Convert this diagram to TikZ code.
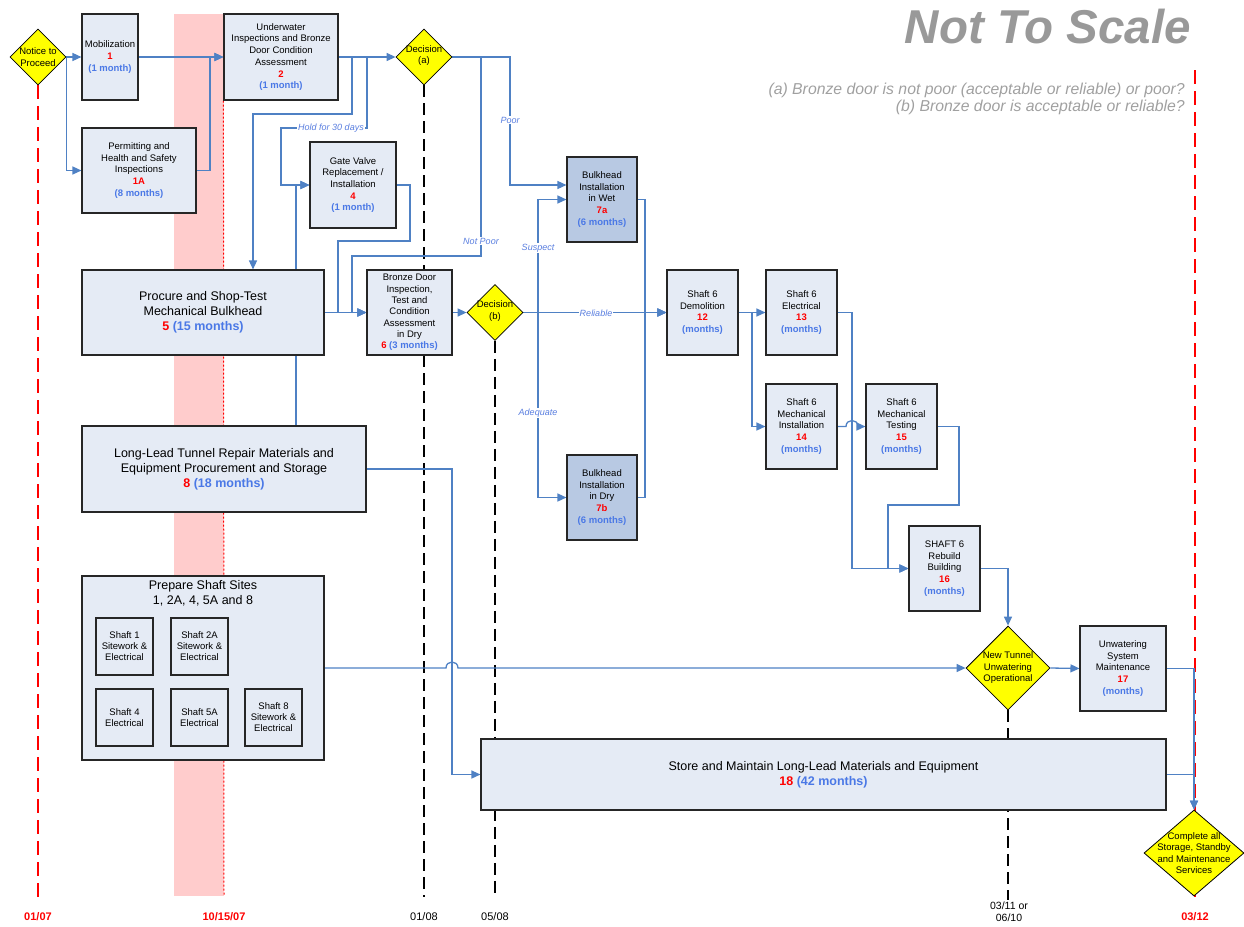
\documentclass[tikz,border=0pt]{standalone}
\usepackage{fontspec}
\setmainfont{Liberation Sans}
\usetikzlibrary{arrows.meta,shapes.geometric,calc}
\definecolor{boxfill}{HTML}{E5EBF5}
\definecolor{darkfill}{HTML}{B8C9E3}
\definecolor{connblue}{HTML}{4F81C4}
\definecolor{numred}{HTML}{FF0000}
\definecolor{monblue}{HTML}{4A78E6}
\definecolor{lblblue}{HTML}{5A7FE0}
\definecolor{pinkband}{HTML}{FFCCCC}
\definecolor{titlegray}{HTML}{999999}
\definecolor{notegray}{HTML}{A0A0A0}
\definecolor{yel}{HTML}{FFFF00}
\pgfdeclarelayer{back}
\pgfdeclarelayer{lines}
\pgfsetlayers{back,lines,main}
\newcommand{\rnum}[1]{\textcolor{numred}{\bfseries #1}}
\newcommand{\bmon}[1]{\textcolor{monblue}{\bfseries #1}}
\tikzset{
  box/.style={draw=black!85, line width=1.1pt, fill=boxfill, align=center, inner sep=1pt, font=\fontsize{9.5}{11.7}\selectfont},
  big/.style={box, font=\fontsize{12.5}{15}\selectfont},
  dkbox/.style={box, fill=darkfill},
  sbox/.style={box, minimum width=57pt, minimum height=57pt, font=\fontsize{9.5}{11}\selectfont},
  dia/.style={diamond, draw=black, line width=0.8pt, fill=yel, inner sep=0pt},
  dtext/.style={align=center, inner sep=0pt, font=\fontsize{9.5}{11.5}\selectfont},
  arr/.style={draw=connblue, line width=1.3pt, -{Triangle[length=9pt,width=8pt]}},
  lbl/.style={font=\fontsize{9}{10}\selectfont\itshape, text=lblblue, fill=white, inner sep=1pt},
  reddash/.style={draw=red, line width=2.2pt, dash pattern=on 14pt off 7pt},
  blkdash/.style={draw=black, line width=2pt, dash pattern=on 12pt off 6pt},
  datelbl/.style={font=\fontsize{11}{12}\selectfont, inner sep=0pt}
}
\begin{document}
\begin{tikzpicture}[x=1pt,y=-1pt]
\clip (0,0) rectangle (1244,926);
\useasboundingbox (0,0) rectangle (1244,926);

% ---- nodes ----
\node[dia, minimum width=56pt, minimum height=56pt] (np) at (38,57) {};
\node[dtext] (npt) at (38,57) {Notice to\\Proceed};
\node[box, minimum width=56pt, minimum height=86pt] (mob) at (110,57) {Mobilization\\\rnum{1}\\\bmon{(1 month)}};
\node[box, minimum width=114pt, minimum height=85pt] (perm) at (139,170.5) {Permitting and\\Health and Safety\\Inspections\\\rnum{1A}\\\bmon{(8 months)}};
\node[box, minimum width=114pt, minimum height=86pt] (uw) at (281,57) {Underwater\\Inspections and Bronze\\Door Condition\\Assessment\\\rnum{2}\\\bmon{(1 month)}};
\node[dia, minimum width=56pt, minimum height=56pt] (da) at (424,57) {};
\node[dtext] (dat) at (424,55.5) {Decision\\(a)};
\node[box, minimum width=86pt, minimum height=86pt] (gv) at (353,185) {Gate Valve\\Replacement /\\Installation\\\rnum{4}\\\bmon{(1 month)}};
\node[big, minimum width=242pt, minimum height=85pt] (proc) at (203,312.5) {Procure and Shop-Test\\Mechanical Bulkhead\\\rnum{5} \bmon{(15 months)}};
\node[box, minimum width=85pt, minimum height=85pt, font=\fontsize{9.5}{11.3}\selectfont] (bd) at (409.5,312.5) {Bronze Door\\Inspection,\\Test and\\Condition\\Assessment\\in Dry\\\rnum{6} \bmon{(3 months)}};
\node[dia, minimum width=56pt, minimum height=56pt] (db) at (495,312.5) {};
\node[dtext] (dbt) at (495,311) {Decision\\(b)};
\node[dkbox, minimum width=70pt, minimum height=85pt] (b7a) at (602,199.5) {Bulkhead\\Installation\\in Wet\\\rnum{7a}\\\bmon{(6 months)}};
\node[dkbox, minimum width=70pt, minimum height=85pt] (b7b) at (602,497.5) {Bulkhead\\Installation\\in Dry\\\rnum{7b}\\\bmon{(6 months)}};
\node[big, minimum width=284pt, minimum height=86pt] (ll) at (224,469) {Long-Lead Tunnel Repair Materials and\\Equipment Procurement and Storage\\\rnum{8} \bmon{(18 months)}};
\node[box, minimum width=242pt, minimum height=184pt] (pss) at (203,668) {};
\node[align=center, anchor=north, inner sep=0pt, font=\fontsize{12.5}{15}\selectfont] (psst) at (203,580) {Prepare Shaft Sites\\1, 2A, 4, 5A and 8};
\node[sbox] (s1) at (124.5,646.5) {Shaft 1\\Sitework \&\\Electrical};
\node[sbox] (s2a) at (199.5,646.5) {Shaft 2A\\Sitework \&\\Electrical};
\node[sbox] (s4) at (124.5,717.5) {Shaft 4\\Electrical};
\node[sbox] (s5a) at (199.5,717.5) {Shaft 5A\\Electrical};
\node[sbox] (s8) at (273.5,717.5) {Shaft 8\\Sitework \&\\Electrical};
\node[box, minimum width=71pt, minimum height=85pt] (dem) at (702.5,312.5) {Shaft 6\\Demolition\\\rnum{12}\\\bmon{(months)}};
\node[box, minimum width=71pt, minimum height=85pt] (el) at (801.5,312.5) {Shaft 6\\Electrical\\\rnum{13}\\\bmon{(months)}};
\node[box, minimum width=71pt, minimum height=85pt] (mi) at (801.5,426.5) {Shaft 6\\Mechanical\\Installation\\\rnum{14}\\\bmon{(months)}};
\node[box, minimum width=71pt, minimum height=85pt] (mt) at (901.5,426.5) {Shaft 6\\Mechanical\\Testing\\\rnum{15}\\\bmon{(months)}};
\node[box, minimum width=71pt, minimum height=85pt] (rb) at (944.5,568.5) {SHAFT 6\\Rebuild\\Building\\\rnum{16}\\\bmon{(months)}};
\node[dia, minimum width=84pt, minimum height=84pt] (nt) at (1008,668) {};
\node[dtext] (ntt) at (1008,668) {New Tunnel\\Unwatering\\Operational};
\node[box, minimum width=86pt, minimum height=85pt] (uws) at (1123,668.5) {Unwatering\\System\\Maintenance\\\rnum{17}\\\bmon{(months)}};
\node[big, minimum width=685pt, minimum height=71pt] (st) at (823.5,774.5) {Store and Maintain Long-Lead Materials and Equipment\\\rnum{18} \bmon{(42 months)}};
\node[dia, minimum width=100pt, minimum height=86pt] (ca) at (1194,853) {};
\node[dtext, font=\fontsize{9.5}{11.3}\selectfont] (cat) at (1194,853) {Complete all\\Storage, Standby\\and Maintenance\\Services};

% ---- texts ----
\node[anchor=east, inner sep=0pt, text=titlegray, font=\fontsize{47.5}{50}\selectfont\bfseries\itshape] (title) at (1191,27) {Not To Scale};
\node[anchor=east, align=right, inner sep=0pt, text=notegray, font=\fontsize{15.8}{17}\selectfont\itshape] (notes) at (1185,98.5) {(a) Bronze door is not poor (acceptable or reliable) or poor?\\(b) Bronze door is acceptable or reliable?};
\node[datelbl, text=red, font=\fontsize{11}{12}\selectfont\bfseries] (d1) at (38,917) {01/07};
\node[datelbl, text=red, font=\fontsize{11}{12}\selectfont\bfseries] (d2) at (224,917) {10/15/07};
\node[datelbl] (d3) at (424,917) {01/08};
\node[datelbl] (d4) at (495,917) {05/08};
\node[datelbl, align=center, font=\fontsize{10.5}{12}\selectfont] (d5) at (1009,912) {03/11 or\\06/10};
\node[datelbl, text=red, font=\fontsize{11}{12}\selectfont\bfseries] (d6) at (1195,917) {03/12};

% ---- connector labels ----
\node[lbl] (lhold) at (331,128) {Hold for 30 days};
\node[lbl] (lpoor) at (510,120) {Poor};
\node[lbl] (lnotpoor) at (481,241) {Not Poor};
\node[lbl] (lsus) at (538,248) {Suspect};
\node[lbl] (lade) at (538,413) {Adequate};
\node[lbl] (lrel) at (596,313) {Reliable};

% ---- background ----
\begin{pgfonlayer}{back}
\fill[pinkband] (174,14) rectangle (224,896);
\draw[red, line width=1pt, dash pattern=on 2pt off 2pt] (uw.south west) -- (224,896);
\draw[reddash] (np.south) -- (38,897);
\draw[reddash] (1195,70) -- (1195,897);
\draw[blkdash] (da.south) -- (424,897);
\draw[blkdash] (db.south) -- (495,897);
\draw[blkdash] (nt.south) -- (1008,900);
\end{pgfonlayer}

% ---- connectors ----
\begin{pgfonlayer}{lines}
\draw[arr] (np.east) -- (mob.west);
\draw[arr] (np.east) |- (perm.west);
\draw[arr] (mob.east) -- (uw.west);
\draw[arr] (perm.east) -- (210,170.5) |- (uw.west);
\draw[arr] (uw.east) -- (da.west);
\draw[arr] (uw.east) -- (352,57) -- (352,114) -| ($(proc.north)+(50,0)$);
\draw[arr] (uw.east) -- (367,57) -- (367,128) -- (281,128) |- (gv.west);
\draw[arr] ($(ll.north)+(72,0)$) |- (gv.west);
\draw[arr] (gv.east) -- (410,185) -- (410,241) -- (338,241) |- (bd.west);
\draw[arr] (proc.east) -- (bd.west);
\draw[arr] (da.east) -- (481,57) -- (481,256) -- (352,256) |- (bd.west);
\draw[arr] (da.east) -- (510,57) |- ($(b7a.west)+(0,-14.5)$);
\draw[arr] (bd.east) -- (db.west);
\draw[arr] (db.east) -- (dem.west);
\draw[arr] (db.east) -- (538,312.5) |- (b7a.west);
\draw[arr] (db.east) -- (538,312.5) |- (b7b.west);
\draw[arr] (b7a.east) -- (645,199.5) |- (dem.west);
\draw[arr] (b7b.east) -- (645,497.5) |- (dem.west);
\draw[arr] (dem.east) -- (el.west);
\draw[arr] (dem.east) -- (752,312.5) |- (mi.west);
\draw[arr] (el.east) -- (852,312.5) |- (rb.west);
\draw[arr] (mi.east) -- (846,426.5) .. controls (846,418.5) and (858,418.5) .. (858,426.5) -- (mt.west);
\draw[arr] (mt.east) -- (959,426.5) -- (959,505) -- (888,505) |- (rb.west);
\draw[arr] (rb.east) -| (nt.north);
\draw[arr] (pss.east) -- (446,668) .. controls (446,660) and (458,660) .. (458,668) -- (nt.west);
\draw[arr] (ll.east) -- (452,469) |- (st.west);
\draw[arr] (nt.east) -- (uws.west);
\draw[arr] (uws.east) -| (ca.north);
\draw[arr] (st.east) -| (ca.north);
\end{pgfonlayer}
\end{tikzpicture}
\end{document}
